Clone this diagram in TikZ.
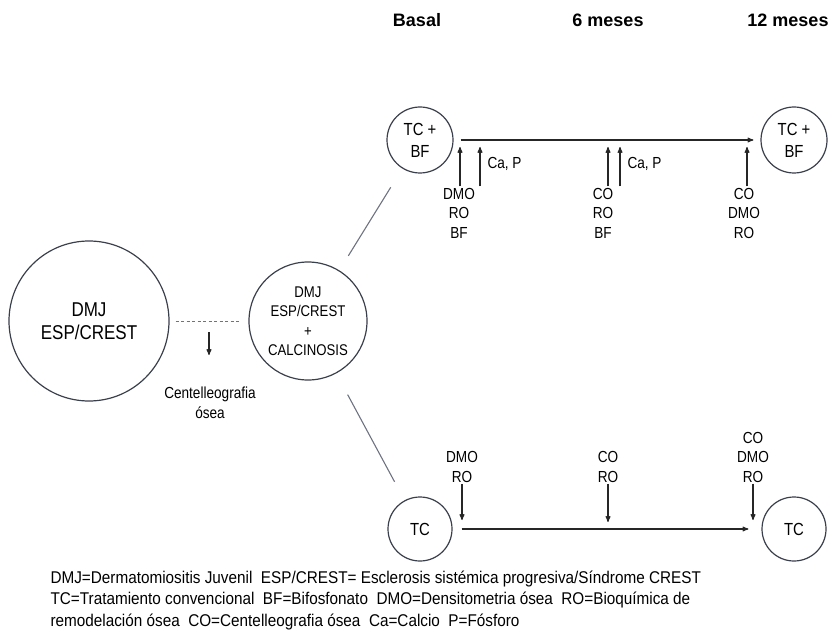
\documentclass[tikz,border=0pt]{standalone}
\usepackage{fontspec}
\setmainfont{Liberation Sans}[FakeStretch=0.85]
\newfontfamily\hdrfont{Liberation Sans}
\newfontfamily\legfont{Liberation Sans}[FakeStretch=0.9]
\usepackage{tikz}
\usetikzlibrary{arrows}
\usetikzlibrary{positioning}
\usetikzlibrary{calc}

\definecolor{circgray}{HTML}{3A3F4C}
\definecolor{linegray}{HTML}{6E7382}

\begin{document}
\begin{tikzpicture}[x=1pt,y=-1pt,>=stealth',line width=1.1pt,
    circ node/.style={circle,draw=circgray,line width=1.2pt,align=center,inner sep=0pt},
    big node/.style={circ node,minimum size=160pt,font=\fontsize{20}{23}\selectfont},
    mid node/.style={circ node,minimum size=118pt,font=\fontsize{15.5}{19.5}\selectfont},
    tc node/.style={circ node,minimum size=66pt,font=\fontsize{17.5}{22}\selectfont},
    lbl node/.style={align=center,inner sep=1pt,font=\fontsize{16}{19.5}\selectfont},
    hdr node/.style={font=\hdrfont\bfseries\fontsize{18}{20}\selectfont},
    tie/.style={draw=linegray,line width=1.1pt},
    arr/.style={->,draw=black!85,line width=1.1pt}
    ]
    \useasboundingbox (0,0) rectangle (829,644);

    % time points
    \node[hdr node](basal) at (417,20){Basal};
    \node[hdr node](m6) at (608,20){6 meses};
    \node[hdr node](m12) at (788,20){12 meses};

    % groups
    \node[big node](dmj) at (89,321){DMJ\\ESP/CREST};
    \node[mid node](calc) at (308,321){DMJ\\ESP/CREST\\+\\CALCINOSIS};
    \node[tc node](tcbf1) at (420,140){TC +\\BF};
    \node[tc node](tcbf2) at (794,140){TC +\\BF};
    \node[tc node,minimum size=64pt](tc1) at (420,529){TC};
    \node[tc node,minimum size=64pt](tc2) at (794,529){TC};

    \draw[tie,shorten <=17pt,shorten >=22pt] (calc) -- (tcbf1);
    \draw[tie,shorten <=24pt,shorten >=21pt] (calc) -- (tc1);
    \draw[draw=linegray,line width=1pt,dash pattern=on 3pt off 2.5pt,
      shorten <=6pt,shorten >=9pt] (dmj) -- (calc);

    % bone scan
    \node[lbl node](cgo) at (210,403){Centelleografia\\ósea};
    \coordinate (scan) at (209,332);
    \coordinate (scanend) at (209,355);
    \draw[arr] (scan) -- (scanend);

    % TC + BF branch
    \draw[arr,shorten <=7pt,shorten >=7pt] (tcbf1) -- (tcbf2);
    \node[lbl node](bas) at (459,213){DMO\\RO\\BF};
    \node[lbl node](sixm) at (603,213){CO\\RO\\BF};
    \node[lbl node](twlm) at (744,213){CO\\DMO\\RO};
    \node[lbl node,anchor=west](cp1) at (486,164){Ca, P};
    \node[lbl node,anchor=west](cp2) at (626,164){Ca, P};
    \coordinate (ta) at (460,147);
    \coordinate (ca) at (480,147);
    \coordinate (tb) at (608,147);
    \coordinate (cb) at (620,147);
    \coordinate (tc) at (747,147);
    \draw[arr] (ta |- bas.north) -- (ta);
    \draw[arr] (ca |- bas.north) -- (ca);
    \draw[arr] (tb |- sixm.north) -- (tb);
    \draw[arr] (cb |- sixm.north) -- (cb);
    \draw[arr] (tc |- twlm.north) -- (tc);

    % TC branch
    \draw[arr,shorten <=9pt,shorten >=13pt] (tc1) -- (tc2);
    \node[lbl node](bdmo) at (462,467){DMO\\RO};
    \node[lbl node](bco) at (608,467){CO\\RO};
    \node[lbl node](bend) at (753,457){CO\\DMO\\RO};
    \coordinate (da) at (462,520);
    \coordinate (db) at (608,522);
    \coordinate (dc) at (753,520);
    \draw[arr] (bdmo.south) -- (da);
    \draw[arr] (bco.south) -- (db);
    \draw[arr] (bend.south) -- (dc);

    % legend
    \node[anchor=north west,align=left,inner sep=0pt,font=\legfont\fontsize{17}{21.5}\selectfont](legend) at (50,570)
      {DMJ=Dermatomiositis Juvenil\ \ ESP/CREST= Esclerosis sistémica progresiva/Síndrome CREST\\
       TC=Tratamiento convencional\ \ BF=Bifosfonato\ \ DMO=Densitometria ósea\ \ RO=Bioquímica de\\
       remodelación ósea\ \ CO=Centelleografia ósea\ \ Ca=Calcio\ \ P=Fósforo};
\end{tikzpicture}
\end{document}
